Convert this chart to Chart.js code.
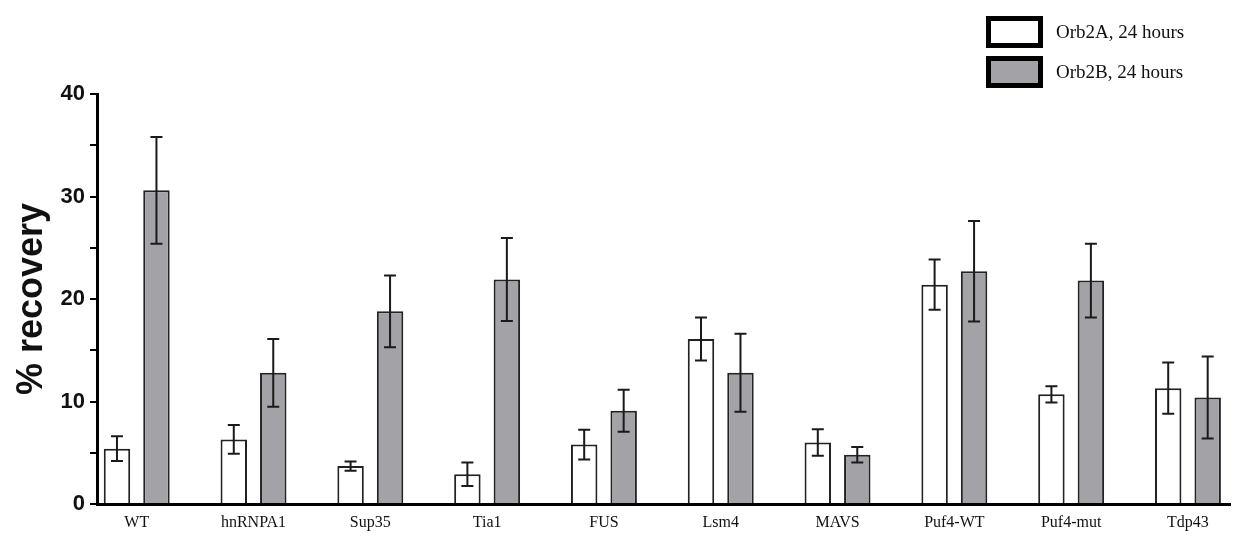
<!DOCTYPE html>
<html>
<head>
<meta charset="utf-8">
<script src="https://cdn.jsdelivr.net/npm/chart.js@4/dist/chart.umd.min.js"></script>
<style>
  body { margin: 0; background: #fff; }
  #wrap { position: relative; width: 1233px; height: 546px; }
  #legend { position: absolute; left: 986px; top: 12px; font-family: "Liberation Serif", "Times New Roman", serif; font-size: 19px; color: #111; }
  .item { display: flex; align-items: center; height: 40px; }
  .swatch { box-sizing: border-box; width: 57px; height: 32px; border: 5px solid #000; margin-right: 13px; }
</style>
</head>
<body>
<div id="wrap">
  <canvas id="chart" width="1233" height="546"></canvas>
  <div id="legend"></div>
</div>
<script>
const CATEGORIES = ["WT", "hnRNPA1", "Sup35", "Tia1", "FUS", "Lsm4", "MAVS", "Puf4-WT", "Puf4-mut", "Tdp43"];
const ORB2A = [5.4, 6.3, 3.7, 2.9, 5.8, 16.1, 6.0, 21.4, 10.7, 11.3];
const ORB2A_ERR = [1.2, 1.4, 0.45, 1.15, 1.45, 2.1, 1.3, 2.45, 0.8, 2.5];
const ORB2B = [30.6, 12.8, 18.8, 21.9, 9.1, 12.8, 4.8, 22.7, 21.8, 10.4];
const ORB2B_ERR = [5.2, 3.3, 3.5, 4.05, 2.05, 3.8, 0.75, 4.9, 3.6, 4.0];
const Y_TICKS = [0, 10, 20, 30, 40];

const errorBars = {
  id: "errorBars",
  afterDatasetsDraw(chart) {
    const ctx = chart.ctx;
    const yScale = chart.scales.y;
    ctx.save();
    ctx.strokeStyle = "#1a1a1a";
    ctx.lineWidth = 2;
    chart.data.datasets.forEach((ds, di) => {
      const meta = chart.getDatasetMeta(di);
      meta.data.forEach((bar, i) => {
        const v = ds.data[i].y;
        const e = ds.errors[i];
        const top = yScale.getPixelForValue(v + e);
        const bot = yScale.getPixelForValue(v - e);
        const cap = 6;
        ctx.beginPath();
        ctx.moveTo(bar.x, top);
        ctx.lineTo(bar.x, bot);
        ctx.moveTo(bar.x - cap, top);
        ctx.lineTo(bar.x + cap, top);
        ctx.moveTo(bar.x - cap, bot);
        ctx.lineTo(bar.x + cap, bot);
        ctx.stroke();
      });
    });
    ctx.restore();
  }
};

const toPoints = (vals) => vals.map((y, i) => ({ x: i, y }));

const chart = new Chart(document.getElementById("chart"), {
  type: "bar",
  data: {
    datasets: [
      {
        label: "Orb2A, 24 hours",
        data: toPoints(ORB2A),
        errors: ORB2A_ERR,
        backgroundColor: "#ffffff",
        borderColor: "#222222",
        borderWidth: 2,
        borderSkipped: "bottom"
      },
      {
        label: "Orb2B, 24 hours",
        data: toPoints(ORB2B),
        errors: ORB2B_ERR,
        backgroundColor: "#a3a2a7",
        borderColor: "#222222",
        borderWidth: 2,
        borderSkipped: "bottom"
      }
    ]
  },
  options: {
    responsive: false,
    animation: false,
    categoryPercentage: 0.676,
    barPercentage: 0.67,
    layout: { padding: { top: 94, right: 3, left: 0, bottom: 0 } },
    plugins: { legend: { display: false }, tooltip: { enabled: false } },
    scales: {
      x: {
        type: "linear",
        offset: false,
        min: -0.34,
        max: 9.36,
        afterFit: (scale) => { scale.height = 42; },
        grid: { display: false, drawTicks: false },
        border: { display: true, color: "#000", width: 3 },
        ticks: {
          stepSize: 1,
          includeBounds: false,
          autoSkip: false,
          maxRotation: 0,
          padding: 9,
          color: "#111",
          font: { family: "Liberation Serif", size: 16 },
          callback: (v) => (Number.isInteger(v) ? CATEGORIES[v] : "")
        }
      },
      y: {
        min: 0,
        max: 40,
        afterFit: (scale) => { scale.width = 97; },
        grid: { drawOnChartArea: false, drawTicks: true, tickLength: 7, color: "#000", lineWidth: 2 },
        border: { display: true, color: "#000", width: 3 },
        ticks: {
          stepSize: 5,
          padding: 5,
          color: "#111",
          font: { family: "Liberation Sans", size: 22, weight: "bold" },
          callback: (v) => (Y_TICKS.includes(v) ? String(v) : "")
        },
        title: {
          display: true,
          text: "% recovery",
          color: "#111",
          padding: { top: 10, bottom: 0 },
          font: { family: "Liberation Sans", size: 36, weight: "bold" }
        }
      }
    }
  },
  plugins: [errorBars]
});

document.getElementById("legend").innerHTML = chart.data.datasets
  .map((ds) => `<div class="item"><span class="swatch" style="background:${ds.backgroundColor}"></span>${ds.label}</div>`)
  .join("");
</script>
</body>
</html>
